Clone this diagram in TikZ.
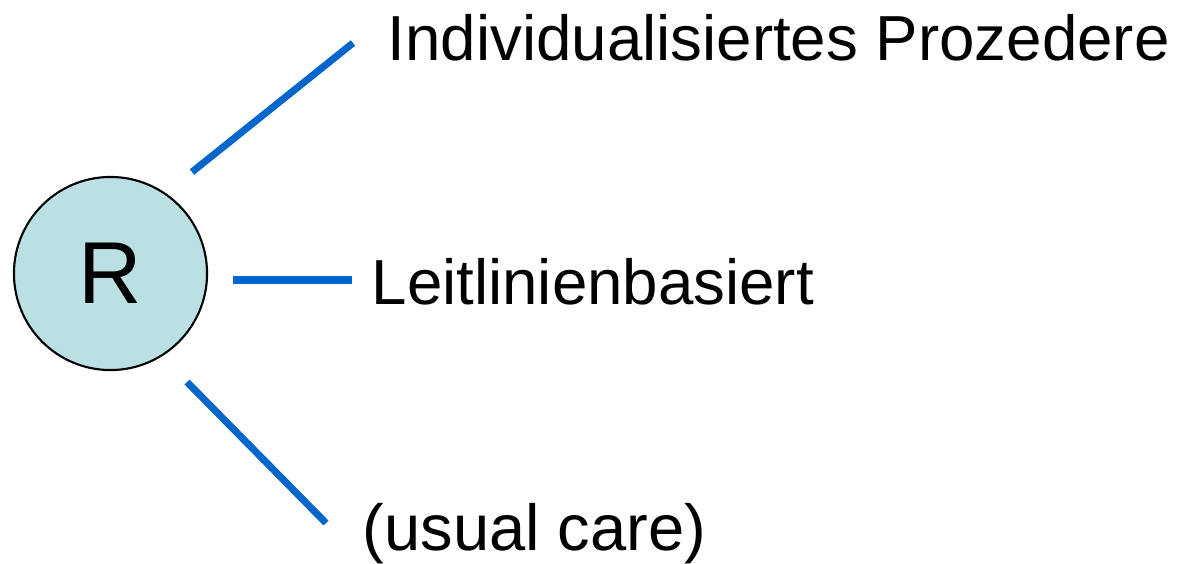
\documentclass[tikz,border=0pt]{standalone}
\usepackage{fontspec}
\setmainfont{Liberation Sans}
\usetikzlibrary{positioning}
\definecolor{armBlue}{RGB}{0,102,204}
\definecolor{randFill}{RGB}{186,224,227}
\tikzset{
  arm/.style={armBlue, line width=2pt},
  armlabel/.style={anchor=base west, inner sep=0pt, font=\fontsize{18.1}{22}\selectfont},
}

\begin{document}
\begin{tikzpicture}[x=0.01cm, y=-0.01cm]
\useasboundingbox (0,0) rectangle (1178,563);
\node[circle, draw=black, line width=0.6pt, fill=randFill, minimum size=1.93cm, inner sep=0pt,
      font=\fontsize{25}{30}\selectfont] (rand) at (110.5,273.5) {R};
\node[armlabel] (indiv) at (387,60) {Individualisiertes Prozedere};
\node[armlabel] (leit) at (371,304) {Leitlinienbasiert};
\node[armlabel, font=\fontsize{18.5}{22}\selectfont] (usual) at (362,550) {(usual care)};
\coordinate (a1) at (192,172);
\coordinate (b1) at (353,43);
\coordinate (a2) at (233,280);
\coordinate (b2) at (352,280);
\coordinate (a3) at (187,382);
\coordinate (b3) at (326,523);
\draw[arm] (a1) -- (b1);
\draw[arm] (a2) -- (b2);
\draw[arm] (a3) -- (b3);
\end{tikzpicture}
\end{document}
